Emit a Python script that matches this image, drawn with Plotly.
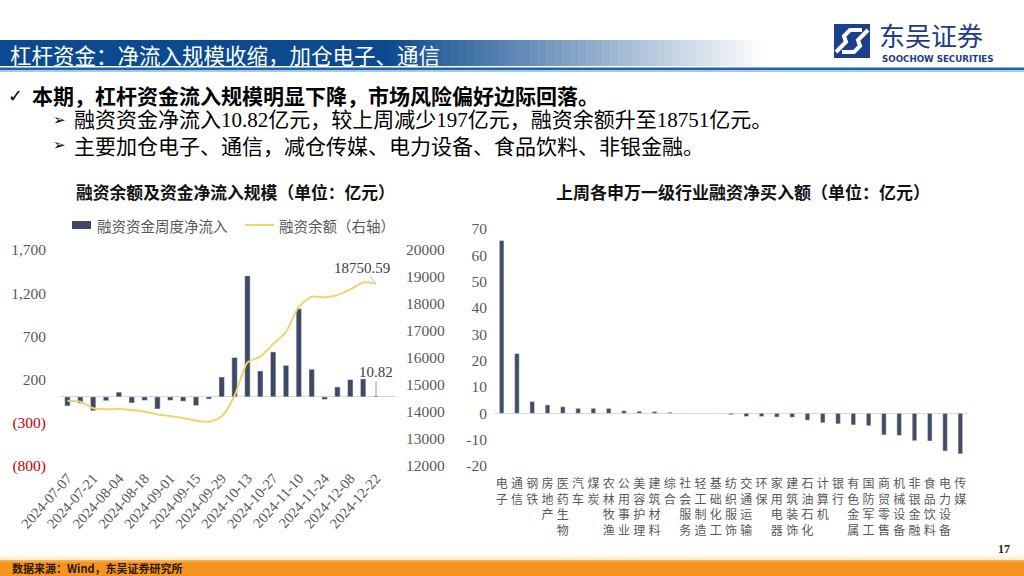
import plotly.graph_objects as go

# ---------------- data ----------------
dates = ["2024-07-07", "2024-07-14", "2024-07-21", "2024-07-28", "2024-08-04", "2024-08-11",
         "2024-08-18", "2024-08-25", "2024-09-01", "2024-09-08", "2024-09-15", "2024-09-22",
         "2024-09-29", "2024-10-06", "2024-10-13", "2024-10-20", "2024-10-27", "2024-11-03",
         "2024-11-10", "2024-11-17", "2024-11-24", "2024-12-01", "2024-12-08", "2024-12-15",
         "2024-12-22"]
weekly_inflow = [-105, -75, -160, -45, 55, -70, -40, -140, -40, -50, -100, -25,
                 230, 455, 1400, 300, 520, 365, 1020, 320, -30, 115, 200, 208, 10.82]
margin_balance = [14420, 14380, 14140, 14100, 14110, 14070, 14010, 13910, 13850, 13770,
                  13680, 13640, 13830, 14600, 15830, 16050, 16520, 16970, 17900, 18270,
                  18250, 18330, 18540, 18800, 18750.59]

industries = ["电子", "通信", "钢铁", "房地产", "医药生物", "汽车", "煤炭", "农林牧渔", "公用事业",
              "美容护理", "建筑材料", "综合", "社会服务", "轻工制造", "基础化工", "纺织服饰",
              "交通运输", "环保", "家用电器", "建筑装饰", "石油石化", "计算机", "银行", "有色金属",
              "国防军工", "商贸零售", "机械设备", "非银金融", "食品饮料", "电力设备", "传媒"]
net_buy = [65.6, 22.7, 4.5, 3.2, 2.5, 1.9, 1.9, 1.9, 1.0, 0.8, 0.7, 0.4, 0.1, 0.05, 0.02,
           -0.5, -1.2, -1.2, -1.4, -1.5, -2.6, -3.6, -4.0, -4.4, -4.7, -8.2, -8.4, -10.4,
           -10.5, -14.3, -15.4]

left_ticks = [-800, -300, 200, 700, 1200, 1700]
left_ticktext = ["<span style='color:#C00000'>(800)</span>", "<span style='color:#C00000'>(300)</span>",
                 "200", "700", "1,200", "1,700"]
right_ticks = [-20, -10, 0, 10, 20, 30, 40, 50, 60, 70]
right_ticktext = ["-20", "-10", "0", "10", "20", "30", "40", "50", "60", "70"]

# ---------------- style ----------------
W, H = 1024, 576
BAR = "#3E4965"
BAR2 = "#444E63"
LINE = "#F1D36E"
GRAY = "#595959"
SERIF = "Liberation Serif, Times New Roman, Noto Sans CJK SC"
CJK = "Noto Sans CJK SC"


def X(p):
    return p / W


def Y(p):
    return 1 - p / H


fig = go.Figure()
fig.add_trace(go.Bar(x=dates, y=weekly_inflow, marker_color=BAR, width=0.42,
                     xaxis="x", yaxis="y", showlegend=False))
fig.add_trace(go.Scatter(x=dates, y=margin_balance, mode="lines",
                         line=dict(color=LINE, width=2, shape="spline", smoothing=0.6),
                         xaxis="x", yaxis="y2", showlegend=False))
ind_labels = ["<br>".join(n) for n in industries]
fig.add_trace(go.Bar(x=ind_labels, y=net_buy, marker_color=BAR2,
                     width=0.3, xaxis="x2", yaxis="y3", showlegend=False))

shapes = []
annotations = []

# header banner with gradient
shapes.append(dict(type="rect", xref="paper", yref="paper", x0=0, x1=X(380), y0=Y(66), y1=Y(40),
                   fillcolor="#0B4A8E", line_width=0, layer="below"))
steps = 48
c0 = (11, 74, 142)
for i in range(steps):
    t = i / steps
    r = int(c0[0] + (255 - c0[0]) * t)
    g = int(c0[1] + (255 - c0[1]) * t)
    b = int(c0[2] + (255 - c0[2]) * t)
    xa = 380 + (760 - 380) * i / steps
    xb = 380 + (760 - 380) * (i + 1) / steps + 0.5
    shapes.append(dict(type="rect", xref="paper", yref="paper", x0=X(xa), x1=X(xb), y0=Y(66), y1=Y(40),
                       fillcolor=f"rgb({r},{g},{b})", line_width=0, layer="below"))
# rule under header
shapes.append(dict(type="rect", xref="paper", yref="paper", x0=0, x1=1, y0=Y(70), y1=Y(67.5),
                   fillcolor="#1E64A8", line_width=0, layer="below"))
shapes.append(dict(type="rect", xref="paper", yref="paper", x0=0, x1=1, y0=Y(72), y1=Y(70),
                   fillcolor="#A9C8E6", line_width=0, layer="below"))

# logo icon
shapes.append(dict(type="rect", xref="paper", yref="paper", x0=X(834), x1=X(870), y0=Y(58), y1=Y(24),
                   fillcolor="#1C3F8C", line_width=0))


def path(pts):
    s = "M %f,%f" % (X(pts[0][0]), Y(pts[0][1]))
    for p in pts[1:]:
        s += " L %f,%f" % (X(p[0]), Y(p[1]))
    return s


shapes.append(dict(type="path", xref="paper", yref="paper",
                   path=path([(836, 52), (846, 42), (844, 36), (850, 30), (862, 30)]),
                   line=dict(color="white", width=4)))
shapes.append(dict(type="path", xref="paper", yref="paper",
                   path=path([(842, 52), (854, 52), (860, 46), (858, 40), (868, 30)]),
                   line=dict(color="white", width=4)))

# footer
shapes.append(dict(type="rect", xref="paper", yref="paper", x0=0, x1=1, y0=Y(560), y1=Y(556),
                   fillcolor="#FDF1D6", line_width=0, layer="below"))
shapes.append(dict(type="rect", xref="paper", yref="paper", x0=0, x1=1, y0=0, y1=Y(560),
                   fillcolor="#F7941D", line_width=0, layer="below"))
shapes.append(dict(type="rect", xref="paper", yref="paper", x0=0, x1=1, y0=Y(562), y1=Y(560),
                   fillcolor="#F9AE55", line_width=0, layer="below"))

# manual legend for the left chart
shapes.append(dict(type="rect", xref="paper", yref="paper", x0=X(72), x1=X(91), y0=Y(229), y1=Y(221),
                   fillcolor=BAR, line_width=0))
shapes.append(dict(type="line", xref="paper", yref="paper", x0=X(245), x1=X(274), y0=Y(225), y1=Y(225),
                   line=dict(color=LINE, width=2)))


def text(x, y, s, size, color="#000000", family=CJK, xanchor="left", bold=False):
    if bold:
        s = "<b>" + s + "</b>"
    annotations.append(dict(xref="paper", yref="paper", x=X(x), y=Y(y), text=s, showarrow=False,
                            xanchor=xanchor, yanchor="middle",
                            font=dict(size=size, color=color, family=family)))


text(8, 54, "杠杆资金：净流入规模收缩，加仓电子、通信", 21.5, "white")
text(877, 35, "东吴证券", 26, "#1E3C84")
text(880, 58.5, "<b>SOOCHOW SECURITIES</b>", 8.7, "#1E3C84", "DejaVu Sans")
text(6, 95, "✓", 18, "#000000", "DejaVu Sans")
text(30, 95, "本期，杠杆资金流入规模明显下降，市场风险偏好边际回落。", 21, bold=True)
text(51, 120, "➢", 15, "#000000", "DejaVu Sans")
text(72, 120, "融资资金净流入10.82亿元，较上周减少197亿元，融资余额升至18751亿元。", 21, family=SERIF)
text(51, 145, "➢", 15, "#000000", "DejaVu Sans")
text(72, 145, "主要加仓电子、通信，减仓传媒、电力设备、食品饮料、非银金融。", 21)
text(235, 192, "融资余额及资金净流入规模（单位：亿元）", 16.8, "#111111", xanchor="center", bold=True)
text(743, 192, "上周各申万一级行业融资净买入额（单位：亿元）", 17, "#111111", xanchor="center", bold=True)
text(95, 225, "融资资金周度净流入", 14.5, GRAY)
text(277, 225, "融资余额（右轴）", 14.5, GRAY)
text(10, 568, "数据来源：Wind，东吴证券研究所", 11, "#2B1A05", bold=True)
text(1012, 549, "17", 12, "#222222", SERIF, xanchor="right", bold=True)

# data labels
annotations.append(dict(xref="x", yref="y2", x=dates[-1], y=margin_balance[-1], text="18750.59",
                        showarrow=True, arrowhead=0, arrowwidth=1, arrowcolor="#BFBFBF",
                        ax=-14, ay=-16, font=dict(size=15, color="#404040", family=SERIF)))
annotations.append(dict(xref="x", yref="y", x=dates[-1], y=weekly_inflow[-1], text="10.82",
                        showarrow=True, arrowhead=0, arrowwidth=1, arrowcolor="#9A9A9A",
                        ax=0, ay=-24, font=dict(size=15, color="#404040", family=SERIF)))

tickfont = dict(family=SERIF, size=15.5, color=GRAY)

fig.update_layout(
    width=W, height=H, margin=dict(l=0, r=0, t=0, b=0, autoexpand=False),
    paper_bgcolor="white", plot_bgcolor="rgba(0,0,0,0)",
    showlegend=False,
    shapes=shapes, annotations=annotations,
    xaxis=dict(domain=[X(61), X(395)], anchor="y", type="category", automargin=False,
               tickmode="array", tickvals=dates[::2], ticktext=dates[::2], tickangle=-48,
               tickfont=dict(family=SERIF, size=14.5, color=GRAY), showline=False, ticks="",
               showgrid=False, zeroline=False),
    yaxis=dict(domain=[Y(466), Y(250)], range=[-800, 1700], tickmode="array", automargin=False,
               tickvals=left_ticks, ticktext=left_ticktext, tickfont=tickfont,
               showgrid=False, zeroline=True, zerolinecolor="#D9D9D9", zerolinewidth=1,
               ticklabelstandoff=14),
    yaxis2=dict(overlaying="y", side="right", anchor="x", range=[12000, 20000], dtick=1000,
                tickformat="d", tickfont=tickfont, showgrid=False, zeroline=False,
                automargin=False, ticklabelstandoff=10),
    xaxis2=dict(domain=[X(494), X(968)], anchor="y3", type="category", ticks="",
                tickmode="array", tickvals=ind_labels, ticktext=ind_labels, automargin=False,
                tickfont=dict(family=CJK, size=12, color=GRAY), showline=False,
                showgrid=False, zeroline=False, tickangle=0, ticklabelstandoff=9),
    yaxis3=dict(domain=[Y(466), Y(229)], range=[-20, 70], anchor="x2", automargin=False,
                tickmode="array", tickvals=right_ticks, ticktext=right_ticktext,
                tickfont=tickfont, showgrid=False, zeroline=True, zerolinecolor="#D9D9D9",
                zerolinewidth=1, ticklabelstandoff=6),
)

fig.write_html("out.html")
